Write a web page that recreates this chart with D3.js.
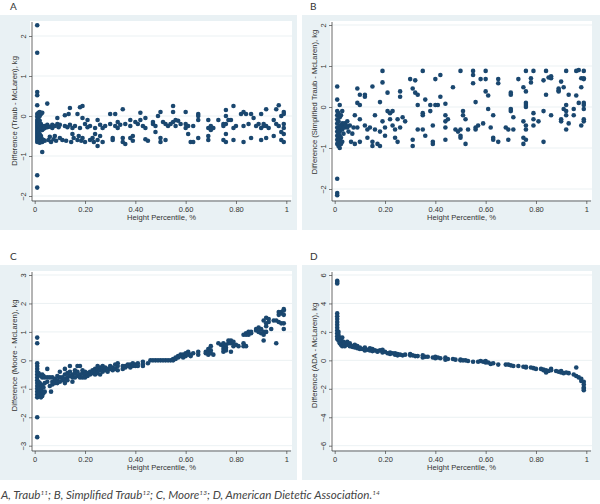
<!DOCTYPE html>
<html><head><meta charset="utf-8">
<script src="https://cdn.jsdelivr.net/npm/d3@7"></script>
<style>body{margin:0;background:#fff}svg{display:block}</style>
</head><body>
<svg id="c" width="600" height="504"></svg>
<script>
const xTicks = [0, 0.2, 0.4, 0.6, 0.8, 1];
const xTickLabels = ["0", "0.20", "0.40", "0.60", "0.80", "1"];
const xTitle = "Height Percentile, %";
const panelLetters = ["A", "B", "C", "D"];
const yTitles = ["Difference (Traub - McLaren), kg", "Difference (Simplified Traub - McLaren), kg", "Difference (Moore - McLaren), kg", "Difference (ADA - McLaren), kg"];
const yTicksA = [-2, -1, 0, 1, 2];
const yTicksB = [-2, -1, 0, 1, 2];
const yTicksC = [-3, -2, -1, 0, 1, 2, 3];
const yTicksD = [-6, -4, -2, 0, 2, 4, 6];

const dataA = [
[0.01,2.27],[0.01,1.58],[0.01,0.6],[0.01,0.52],[0.01,0.27],[0.01,-1.48],[0.01,-1.79],
[0.01,0.05],[0.01,-0.02],[0.01,-0.1],[0.01,-0.15],[0.01,-0.2],[0.01,-0.25],[0.01,-0.3],[0.01,-0.35],[0.01,-0.4],[0.01,-0.45],[0.01,-0.5],[0.01,-0.55],[0.01,-0.6],[0.01,-0.65],
[0.015,0.08],[0.015,-0.05],[0.015,-0.22],[0.015,-0.3],[0.015,-0.38],[0.015,-0.48],[0.015,-0.58],[0.015,-0.63],
[0.02,0.1],[0.02,0.0],[0.02,-0.12],[0.02,-0.27],[0.02,-0.33],[0.02,-0.45],[0.02,-0.55],[0.02,-0.62],[0.02,-0.67],
[0.025,0.05],[0.025,-0.2],[0.025,-0.3],[0.025,-0.5],[0.025,-0.6],
[0.03,0.08],[0.03,-0.9],[0.03,-0.25],[0.03,-0.35],[0.03,-0.58],[0.03,-0.65],
[0.035,-0.28],[0.035,-0.32],[0.035,-0.6],[0.04,-0.25],[0.04,-0.3],[0.04,-0.62],
[0.05,0.31],[0.05,-0.22],[0.05,-0.28],[0.055,-0.6],[0.06,-0.27],[0.06,-0.52],[0.065,-0.65],
[0.07,-0.22],[0.07,-0.3],[0.075,-0.58],[0.08,-0.25],[0.08,-0.5],[0.085,-0.62],
[0.09,-0.05],[0.09,-0.2],[0.095,-0.28],[0.1,-0.22],[0.1,-0.55],[0.11,-0.6],
[0.12,0.02],[0.12,-0.25],[0.125,-0.62],[0.13,-0.28],[0.135,0.05],[0.14,0.2],[0.14,-0.22],[0.145,-0.65],[0.15,-0.3],[0.15,-0.45],[0.155,-0.55],[0.16,-0.25],
[0.17,0.05],[0.17,-0.6],[0.175,-0.5],[0.18,0.22],[0.18,-0.3],[0.185,-0.62],[0.19,0.25],[0.19,-0.05],[0.19,-0.55],[0.2,-0.2],[0.2,-0.65],
[0.21,-0.1],[0.21,-0.28],[0.22,-0.6],[0.22,-0.25],[0.23,-0.55],[0.235,-0.65],[0.24,-0.45],[0.24,-0.3],[0.25,-0.75],[0.25,-0.1],[0.25,-0.6],[0.26,-0.22],[0.26,-0.5],[0.27,-0.3],[0.27,-0.65],[0.28,-0.25],
[0.3,0.05],[0.3,-0.2],[0.31,-0.55],[0.31,-0.6],[0.32,0.05],[0.32,-0.25],[0.33,-0.15],[0.33,-0.3],[0.34,-0.22],[0.35,0.17],[0.35,-0.55],[0.35,-0.65],[0.36,-0.7],[0.36,-0.2],
[0.38,-0.1],[0.38,-0.25],[0.38,-0.55],[0.39,-0.5],[0.39,-0.62],[0.4,-0.15],[0.41,-0.2],[0.42,0.08],[0.42,-0.1],[0.43,-0.25],[0.44,-0.05],[0.44,-0.3],[0.44,-0.58],[0.45,-0.62],
[0.47,-0.15],[0.47,-0.2],[0.48,-0.4],[0.48,-0.25],[0.49,0.0],[0.5,0.1],[0.5,-0.55],[0.5,-0.65],[0.51,-0.15],[0.52,-0.2],[0.52,-0.6],[0.53,-0.25],
[0.54,-0.2],[0.55,0.25],[0.55,0.1],[0.55,-0.15],[0.56,-0.1],[0.56,-0.25],[0.57,-0.12],[0.58,-0.2],
[0.6,0.1],[0.6,-0.2],[0.6,-0.3],[0.61,-0.25],[0.61,-0.45],[0.62,-0.65],[0.63,-0.65],[0.63,-0.25],
[0.65,0.05],[0.65,0.0],[0.65,-0.1],[0.65,-0.55],
[0.69,-0.1],[0.69,-0.3],[0.69,-0.5],[0.69,-0.6],[0.7,-0.25],[0.7,-0.35],[0.71,-0.3],
[0.73,-0.1],[0.75,-0.2],[0.75,-0.25],[0.75,-0.6],[0.76,0.15],[0.76,0.0],[0.76,-0.2],[0.76,-0.45],[0.76,-0.65],[0.77,-0.1],
[0.78,-0.1],[0.79,0.25],[0.79,-0.3],[0.79,-0.6],[0.8,-0.25],
[0.82,0.05],[0.83,0.1],[0.83,-0.25],[0.83,-0.65],[0.84,0.05],[0.85,-0.2],[0.86,0.05],[0.86,-0.55],[0.87,-0.05],
[0.88,-0.25],[0.89,-0.2],[0.9,0.05],[0.9,-0.3],[0.9,-0.6],[0.91,-0.25],[0.91,-0.2],[0.92,0.17],[0.92,-0.55],[0.92,-0.25],[0.93,-0.3],
[0.95,-0.1],[0.95,-0.5],[0.96,0.17],[0.96,-0.2],[0.97,0.27],[0.97,-0.25],[0.98,-0.4],[0.98,-0.6],[0.98,0.0],[0.99,0.1],[0.99,0.05],[0.99,-0.2],[0.99,-0.45],[0.99,-0.65],[0.99,-0.3]
];

const dataB = [
[0.01,0.5],[0.01,0.18],[0.01,-1.75],[0.01,-2.1],[0.01,-2.15],
[0.01,-0.1],[0.01,-0.2],[0.01,-0.3],[0.01,-0.4],[0.01,-0.5],[0.01,-0.6],[0.01,-0.7],[0.01,-0.8],[0.01,-0.9],
[0.015,-0.15],[0.015,-0.35],[0.015,-0.55],[0.015,-0.65],[0.015,-0.75],[0.015,-0.85],[0.015,-0.95],
[0.02,0.05],[0.02,-0.25],[0.02,-0.45],[0.02,-0.6],[0.02,-0.7],[0.02,-0.8],[0.02,-1.0],
[0.025,-0.2],[0.025,-0.5],[0.025,-0.75],[0.025,-0.9],
[0.03,-0.1],[0.03,-0.4],[0.03,-0.55],[0.03,-0.85],[0.035,-0.45],[0.035,-0.65],[0.04,-0.5],[0.04,-0.4],[0.045,-0.45],
[0.05,-0.35],[0.05,-0.5],[0.055,-0.6],[0.06,-0.45],[0.065,-0.85],[0.07,-0.65],[0.075,-0.5],[0.08,-0.2],[0.08,-0.9],
[0.09,0.45],[0.09,0.1],[0.09,-0.5],[0.1,0.05],[0.1,0.3],[0.1,-0.3],[0.1,-0.85],
[0.12,0.3],[0.12,0.25],[0.12,-0.45],[0.13,-0.75],[0.13,-0.55],[0.14,-0.5],[0.15,0.5],[0.15,-0.85],[0.15,-0.95],[0.16,-0.2],[0.16,-0.55],[0.17,-0.9],[0.18,0.12],[0.18,-0.6],[0.18,-0.95],
[0.19,0.88],[0.19,0.6],[0.19,-0.35],[0.2,-0.5],[0.2,-0.7],[0.21,0.35],[0.21,-0.1],[0.22,-0.15],[0.22,-0.3],
[0.23,-0.1],[0.23,-0.45],[0.24,-0.75],[0.24,-0.55],[0.25,-0.3],[0.25,-0.85],[0.26,0.38],[0.26,0.25],[0.26,-0.5],[0.27,-0.25],[0.28,-0.35],
[0.3,0.68],[0.31,0.45],[0.31,-0.8],[0.31,-0.95],[0.32,0.65],[0.32,0.35],[0.33,0.3],[0.33,0.05],[0.33,-0.55],[0.35,0.88],[0.35,-0.15],[0.35,-0.2],[0.35,-0.55],[0.36,-0.7],[0.36,0.18],
[0.38,-0.1],[0.38,0.05],[0.39,-0.45],[0.39,-0.85],[0.39,-0.9],[0.4,0.68],[0.4,0.05],[0.41,0.05],[0.42,0.78],[0.42,0.25],[0.44,0.08],[0.44,-0.2],[0.44,-0.35],[0.44,-0.5],[0.44,-0.8],[0.45,-0.3],
[0.47,0.48],[0.48,-0.55],[0.49,-0.6],[0.5,-0.55],[0.5,-0.7],[0.5,-0.75],[0.5,0.88],[0.51,-0.2],[0.51,-0.1],[0.52,-0.3],[0.52,-0.9],[0.53,-0.55],
[0.55,0.88],[0.55,0.78],[0.55,0.58],[0.56,0.12],[0.56,-0.5],[0.56,-0.55],[0.57,-0.45],
[0.58,0.68],[0.59,-0.4],[0.6,0.88],[0.6,0.68],[0.6,0.38],[0.61,0.28],[0.61,-0.05],
[0.62,-0.5],[0.63,-0.2],[0.63,-0.75],[0.63,-0.8],[0.65,0.68],[0.65,0.58],[0.65,-0.85],
[0.68,-0.5],[0.69,-0.55],[0.69,-0.8],[0.7,0.35],[0.7,0.3],[0.7,-0.05],[0.7,-0.1],[0.71,-0.25],[0.71,-0.55],
[0.73,0.68],[0.75,0.48],[0.75,-0.35],[0.75,-0.75],[0.75,-0.9],[0.76,0.38],[0.76,0.88],[0.76,0.1],[0.76,0.05],[0.76,0.0],[0.76,-0.45],[0.76,-0.55],[0.76,-0.8],
[0.78,0.7],[0.78,0.6],[0.79,0.88],[0.79,-0.15],[0.79,-0.3],[0.79,-0.45],[0.81,-0.35],
[0.83,0.65],[0.83,-0.1],[0.83,-0.85],[0.84,0.88],[0.84,0.3],[0.85,0.72],[0.86,0.75],[0.86,0.7],[0.86,-0.2],
[0.89,0.4],[0.89,0.38],[0.89,0.45],[0.9,0.62],[0.9,-0.3],[0.9,-0.35],[0.91,0.48],[0.91,-0.05],[0.92,0.88],[0.92,0.05],[0.92,-0.1],[0.92,-0.2],[0.92,-0.55],[0.93,0.3],[0.93,-0.4],
[0.95,-0.2],[0.95,-0.05],[0.96,0.88],[0.96,0.28],[0.97,0.9],[0.97,0.1],[0.98,0.7],[0.98,0.48],[0.98,-0.45],[0.99,0.68],[0.99,0.7],[0.99,0.88],[0.99,-0.05],[0.99,0.1],[0.99,0.05],[0.99,-0.3],[0.99,-0.35]
];

const dataC = [
[0.01,0.8],[0.01,0.6],[0.01,-0.1],[0.01,-0.2],[0.01,-0.3],[0.01,-0.4],[0.01,-0.5],[0.01,-0.6],[0.01,-0.7],[0.01,-0.8],[0.01,-0.9],[0.01,-1.0],[0.01,-1.1],[0.01,-1.2],[0.01,-1.3],[0.01,-2.0],[0.01,-2.7],
[0.015,-0.45],[0.015,-0.75],[0.015,-0.95],[0.015,-1.15],[0.015,-1.25],
[0.02,-0.5],[0.02,-0.8],[0.02,-0.9],[0.02,-1.0],[0.02,-1.1],[0.02,-1.2],
[0.025,-0.55],[0.025,-0.85],[0.025,-1.05],[0.025,-1.3],
[0.03,-0.5],[0.03,-0.6],[0.03,-0.9],[0.03,-1.1],[0.03,-1.2],[0.03,-1.25],
[0.035,-0.55],[0.035,-0.95],[0.035,-1.15],[0.04,-0.6],[0.04,-0.8],[0.04,-1.1],
[0.05,-0.3],[0.05,-0.6],[0.05,-0.75],[0.06,-0.6],[0.06,-0.9],[0.065,-1.1],
[0.07,-0.6],[0.07,-0.75],[0.07,-0.85],[0.08,-0.65],[0.08,-0.8],
[0.09,-0.55],[0.09,-0.7],[0.09,-0.8],[0.1,-0.4],[0.1,-0.6],[0.1,-0.75],[0.11,-0.6],[0.11,-0.7],
[0.12,-0.3],[0.12,-0.5],[0.12,-0.65],[0.12,-0.8],[0.13,-0.45],[0.13,-0.6],[0.13,-0.7],
[0.14,-0.2],[0.14,-0.4],[0.14,-0.55],[0.15,-0.5],[0.15,-0.6],[0.15,-0.75],[0.16,-0.35],[0.16,-0.45],[0.16,-0.6],
[0.17,-0.2],[0.17,-0.4],[0.17,-0.55],[0.18,-0.2],[0.18,-0.5],[0.18,-0.6],[0.19,-0.35],[0.19,-0.45],[0.19,-0.6],
[0.2,-0.4],[0.2,-0.5],[0.2,-0.6],[0.21,-0.45],[0.21,-0.55],[0.22,-0.4],[0.22,-0.5],[0.23,-0.35],[0.23,-0.45],
[0.24,-0.3],[0.24,-0.4],[0.24,-0.5],[0.25,-0.2],[0.25,-0.3],[0.25,-0.45],[0.26,-0.25],[0.26,-0.35],[0.26,-0.5],
[0.27,-0.2],[0.27,-0.3],[0.27,-0.4],[0.28,-0.25],[0.28,-0.35],[0.29,-0.3],[0.29,-0.4],[0.3,-0.2],[0.3,-0.3],
[0.31,-0.25],[0.31,-0.35],[0.32,-0.15],[0.32,-0.3],[0.33,-0.1],[0.33,-0.2],[0.33,-0.35],
[0.35,-0.2],[0.35,-0.3],[0.36,-0.2],[0.36,-0.25],[0.37,-0.15],[0.37,-0.2],[0.38,-0.15],[0.38,-0.25],
[0.39,-0.1],[0.39,-0.2],[0.4,-0.15],[0.4,-0.2],[0.41,-0.1],[0.41,-0.2],[0.43,-0.05],[0.43,-0.15],[0.43,-0.2],[0.45,-0.1],
[0.46,0.0],[0.47,0.0],[0.48,0.0],[0.49,0.0],[0.5,0.0],[0.51,0.0],[0.52,0.0],[0.53,0.0],[0.54,0.0],
[0.55,0.05],[0.55,0.0],[0.56,0.1],[0.56,0.05],[0.57,0.15],[0.57,0.1],[0.58,0.2],[0.58,0.15],[0.59,0.1],[0.59,0.2],
[0.6,0.15],[0.6,0.25],[0.61,0.3],[0.61,0.2],[0.62,0.2],[0.62,0.15],[0.63,0.25],[0.65,0.2],[0.65,0.3],
[0.68,0.3],[0.68,0.25],[0.69,0.2],[0.69,0.4],[0.69,0.3],[0.7,0.5],[0.7,0.35],[0.7,0.25],[0.71,0.2],
[0.73,0.6],[0.74,0.55],[0.75,0.3],[0.75,0.4],[0.75,0.5],[0.75,0.6],[0.76,0.45],[0.76,0.55],[0.76,0.4],[0.76,0.35],
[0.77,0.6],[0.77,0.7],[0.78,0.7],[0.78,0.6],[0.78,0.3],[0.79,0.65],[0.79,0.5],[0.8,0.55],[0.81,0.5],
[0.83,0.5],[0.83,0.6],[0.83,0.9],[0.84,0.95],[0.84,0.9],[0.84,0.5],[0.85,1.0],[0.85,0.9],[0.86,0.95],[0.86,1.0],
[0.88,1.05],[0.88,1.1],[0.89,1.0],[0.89,1.15],[0.9,0.95],[0.9,1.1],[0.91,0.7],[0.91,1.0],[0.91,0.9],[0.91,1.4],
[0.92,1.5],[0.92,1.3],[0.92,1.2],[0.92,1.0],[0.93,1.35],[0.93,1.45],[0.94,1.1],[0.95,1.4],[0.96,0.6],[0.96,1.4],
[0.97,1.35],[0.97,1.7],[0.97,1.6],[0.98,1.7],[0.98,1.3],[0.98,1.65],[0.99,1.8],[0.99,1.6],[0.99,1.3],[0.99,1.1],[0.99,1.75]
];

const dataD = [
[0.01,5.6],[0.01,5.5],[0.01,5.4],[0.01,3.3],[0.01,3.1],[0.01,2.9],[0.01,2.7],[0.01,2.5],[0.01,2.3],[0.01,2.1],[0.01,1.9],[0.01,1.7],[0.01,1.5],
[0.015,2.0],[0.015,1.8],[0.015,1.6],[0.015,1.4],[0.02,1.6],[0.02,1.5],[0.02,1.3],[0.02,1.2],
[0.025,1.5],[0.025,1.4],[0.025,1.1],[0.03,1.6],[0.03,1.2],[0.03,1.0],[0.035,1.3],[0.035,1.1],[0.04,1.2],[0.04,1.0],
[0.05,1.3],[0.05,1.1],[0.06,1.2],[0.06,1.0],[0.07,1.0],[0.07,0.95],[0.08,1.1],[0.08,0.9],[0.09,1.0],[0.09,0.85],
[0.1,0.9],[0.1,0.8],[0.11,0.8],[0.12,0.9],[0.12,0.7],[0.13,0.75],[0.14,0.85],[0.14,0.7],[0.15,0.8],[0.15,0.65],
[0.16,0.7],[0.17,0.65],[0.17,0.6],[0.18,0.7],[0.19,0.75],[0.19,0.55],[0.2,0.6],[0.21,0.5],[0.22,0.55],[0.22,0.45],
[0.23,0.5],[0.24,0.4],[0.24,0.5],[0.25,0.45],[0.25,0.35],[0.26,0.4],[0.27,0.35],[0.28,0.4],[0.3,0.45],[0.3,0.35],
[0.31,0.35],[0.32,0.3],[0.33,0.3],[0.35,0.35],[0.35,0.2],[0.36,0.25],[0.37,0.25],[0.39,0.2],[0.4,0.15],[0.4,0.25],
[0.41,0.2],[0.42,0.15],[0.44,0.2],[0.44,0.05],[0.45,0.1],[0.47,0.1],[0.48,0.05],[0.5,0.05],[0.5,0.0],[0.51,0.0],
[0.52,0.0],[0.53,-0.05],[0.55,-0.1],[0.57,-0.1],[0.58,-0.05],[0.59,-0.1],[0.6,-0.15],[0.6,-0.05],[0.61,-0.15],
[0.62,-0.25],[0.63,-0.2],[0.65,-0.3],[0.68,-0.3],[0.69,-0.3],[0.7,-0.35],[0.71,-0.4],[0.73,-0.4],[0.75,-0.45],
[0.76,-0.45],[0.76,-0.5],[0.78,-0.5],[0.79,-0.55],[0.8,-0.6],[0.82,-0.6],[0.83,-0.7],[0.83,-0.65],[0.84,-0.85],
[0.84,-0.7],[0.85,-0.75],[0.86,-0.6],[0.86,-0.7],[0.88,-0.75],[0.89,-0.8],[0.9,-0.85],[0.9,-0.75],[0.91,-0.9],
[0.92,-0.85],[0.93,-0.9],[0.95,-1.0],[0.96,-1.1],[0.96,-0.5],[0.97,-1.2],[0.98,-1.3],[0.98,-1.45],
[0.99,-1.5],[0.99,-1.7],[0.99,-1.9],[0.99,-2.0],[0.99,-2.1]
];

const panels = [
  {data: dataA, yTicks: yTicksA, ox: 0,   oy: 0,   bgx: 0,   bgw: 297, yr: [196, 36]},
  {data: dataB, yTicks: yTicksB, ox: 300, oy: 0,   bgx: 302, bgw: 298, yr: [189, 25]},
  {data: dataC, yTicks: yTicksC, ox: 0,   oy: 250, bgx: 0,   bgw: 297, yr: [195.7, 25]},
  {data: dataD, yTicks: yTicksD, ox: 300, oy: 250, bgx: 302, bgw: 298, yr: [195.7, 25]}
];

const svg = d3.select("#c");
const navy = "#1a476f";
const axisFont = "'Liberation Sans', Arial, sans-serif";

panels.forEach((p, i) => {
  svg.append("rect").attr("x", p.bgx).attr("y", p.oy + 15).attr("width", p.bgw).attr("height", 215).attr("fill", "#e9f1f4");
  const g = svg.append("g").attr("transform", `translate(${p.ox},${p.oy})`);
  g.append("rect").attr("x", 30).attr("y", 21).attr("width", 262).attr("height", 179).attr("fill", "#fff");

  const x = d3.scaleLinear().domain([0, 1]).range([34.7, 286.3]);
  const y = d3.scaleLinear().domain(d3.extent(p.yTicks)).range(p.yr);

  g.append("g").selectAll("line").data(p.yTicks).join("line")
    .attr("x1", 32).attr("x2", 292).attr("y1", d => y(d)).attr("y2", d => y(d))
    .attr("stroke", "#e6edf0").attr("stroke-width", 0.8);

  const yAxis = d3.axisLeft(y).tickValues(p.yTicks).tickSize(3).tickFormat(d3.format("d"));
  const ya = g.append("g").attr("transform", "translate(32,0)").call(yAxis);
  ya.select(".domain").attr("d", "M0,22V201").attr("stroke", "#444").attr("stroke-width", 0.8);
  ya.selectAll(".tick line").attr("stroke", "#444").attr("stroke-width", 0.7);
  ya.selectAll(".tick text").attr("font-family", axisFont).attr("font-size", 7.5).attr("fill", "#333")
    .attr("transform", "rotate(-90)").attr("x", 0).attr("y", -6).attr("dy", 0).attr("text-anchor", "middle");

  const xAxis = d3.axisBottom(x).tickValues(xTicks).tickSize(3).tickPadding(3).tickFormat((d, k) => xTickLabels[k]);
  const xa = g.append("g").attr("transform", "translate(0,201)").call(xAxis);
  xa.select(".domain").attr("d", "M32,0H291").attr("stroke", "#444").attr("stroke-width", 0.8);
  xa.selectAll(".tick line").attr("stroke", "#444").attr("stroke-width", 0.7);
  xa.selectAll(".tick text").attr("font-family", axisFont).attr("font-size", 7.5).attr("fill", "#333");

  g.append("g").selectAll("circle").data(p.data).join("circle")
    .attr("cx", d => x(d[0])).attr("cy", d => y(d[1])).attr("r", 2.3).attr("fill", navy);

  g.append("text").attr("x", 161.5).attr("y", 220).attr("text-anchor", "middle")
    .attr("font-family", axisFont).attr("font-size", 7.6).attr("fill", "#333").text(xTitle);
  g.append("text").attr("transform", `translate(17,${(p.yr[0] + p.yr[1]) / 2 - 5}) rotate(-90)`).attr("text-anchor", "middle")
    .attr("font-family", axisFont).attr("font-size", 7.6).attr("fill", "#333").text(yTitles[i]);
  g.append("text").attr("x", 10).attr("y", 10).attr("font-family", "Lato, 'Open Sans', sans-serif")
    .attr("font-size", 10).attr("fill", "#333").text(panelLetters[i]);
});

const cap = svg.append("text").attr("x", 1).attr("y", 499).attr("font-family", "Lato, 'Open Sans', sans-serif")
  .attr("font-style", "italic").attr("font-size", 11.6).attr("fill", "#444");
const capParts = [["A, Traub", false], ["11", true], ["; B, Simplified Traub", false], ["12", true], ["; C, Moore", false], ["13", true], ["; D, American Dietetic Association.", false], ["14", true]];
capParts.forEach(([t, sup], k) => {
  const ts = cap.append("tspan").text(t);
  if (sup) ts.attr("font-size", 6.5).attr("dy", -4);
  else ts.attr("dy", k === 0 ? 0 : 4);
});
</script>
</body></html>
